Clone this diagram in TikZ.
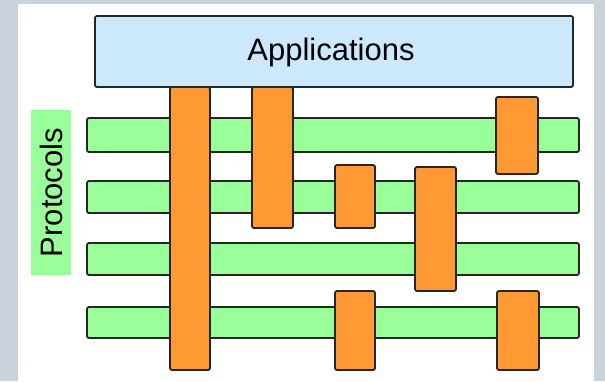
\documentclass[tikz,border=0pt]{standalone}
\usepackage{fontspec}
\setmainfont{Liberation Sans}
\definecolor{framegray}{HTML}{C9D3DB}
\definecolor{appblue}{HTML}{CCE9FB}
\definecolor{protgreen}{HTML}{99FF99}
\definecolor{layerorange}{HTML}{FF9933}

\begin{document}
\begin{tikzpicture}[x=0.5pt,y=-0.5pt,
  box/.style={draw=black!85, line width=0.9pt, rounded corners=1pt},
  label/.style={font=\fontsize{15.5}{18}\selectfont}]
\fill [framegray] (0,0) rectangle (605,381);
\fill [white] (18,4) rectangle (594,381);
\useasboundingbox (0,0) rectangle (605,381);

% protocol label
\fill [protgreen] (31,110) rectangle (71,275);
\node [label, rotate=90] (prot) at (51,192.5) {Protocols};

% protocol rows
\draw [box, fill=protgreen] (87,118) rectangle (579,152);
\draw [box, fill=protgreen] (87,181) rectangle (579,213);
\draw [box, fill=protgreen] (87,243) rectangle (579,275);
\draw [box, fill=protgreen] (87,307) rectangle (579,338);

% vertical pieces
\draw [box, fill=layerorange] (170,87) rectangle (210,370);
\draw [box, fill=layerorange] (252,87) rectangle (293,228);
\draw [box, fill=layerorange] (335,165) rectangle (375,228);
\draw [box, fill=layerorange] (415,167) rectangle (456,291);
\draw [box, fill=layerorange] (496,97) rectangle (538,174);
\draw [box, fill=layerorange] (335,291) rectangle (375,370);
\draw [box, fill=layerorange] (497,291) rectangle (539,370);

% applications
\draw [box, fill=appblue] (95,16) rectangle (573,87);
\node [label] (app) at (331,52) {Applications};
\end{tikzpicture}
\end{document}
